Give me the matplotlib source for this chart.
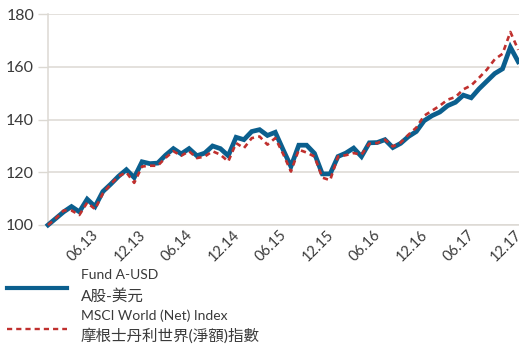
import matplotlib
matplotlib.use("Agg")
import matplotlib.pyplot as plt
from matplotlib.lines import Line2D
import matplotlib.transforms as mtransforms

# Monthly index values, Dec 2012 = 100 (61 month-ends, 12.12 .. 12.17)
fund_a_usd = [
    100.0, 102.5, 105.0, 107.0, 105.0, 109.8, 107.0, 112.7, 115.5, 118.5,
    121.0, 118.0, 124.0, 123.3, 123.5, 126.5, 129.0, 127.0, 129.0, 126.3,
    127.3, 130.0, 129.0, 126.3, 133.3, 132.4, 135.5, 136.2, 134.0, 135.2,
    128.6, 122.2, 130.3, 130.3, 127.2, 119.4, 119.4, 126.0, 127.3, 129.2,
    126.0, 131.2, 131.3, 132.4, 129.4, 131.0, 133.6, 135.5, 139.6, 141.5,
    142.9, 145.3, 146.6, 149.3, 148.3, 151.7, 154.6, 157.5, 159.3, 167.5,
    162.0,
]
msci_world = [
    100.0, 102.5, 105.5, 105.5, 103.8, 108.5, 106.0, 112.0, 115.5, 118.5,
    120.0, 116.0, 122.2, 122.5, 122.5, 125.5, 128.0, 126.3, 128.0, 125.4,
    126.0, 128.0, 126.7, 124.1, 131.1, 129.2, 133.0, 133.6, 130.5, 133.0,
    127.0, 120.3, 128.6, 127.5, 126.0, 118.0, 117.0, 126.0, 126.5, 127.3,
    126.7, 130.9, 131.1, 132.4, 129.8, 131.3, 134.3, 137.0, 141.5, 143.4,
    145.3, 147.6, 148.6, 151.5, 153.0, 155.9, 159.0, 162.9, 165.0, 173.3,
    166.5,
]
tick_months = [6, 12, 18, 24, 30, 36, 42, 48, 54, 60]
tick_labels = ["06.13", "12.13", "06.14", "12.14", "06.15",
               "12.15", "06.16", "12.16", "06.17", "12.17"]
y_ticks = [100, 120, 140, 160, 180]

legend_labels = [
    ("Fund A-USD", "A股-美元"),
    ("MSCI World (Net) Index", "摩根士丹利世界(淨額)指數"),
]

FUND_COLOR = "#0b5f8e"
INDEX_COLOR = "#c0302e"
TEXT_COLOR = "#3a3a3a"
GRID_COLOR = "#dcd9d3"
FONT = ["Lato", "Noto Sans CJK TC", "DejaVu Sans"]

plt.rcParams["font.family"] = FONT

W, H = 519, 345
fig = plt.figure(figsize=(W / 100, H / 100), dpi=100)
ax = fig.add_axes([48 / W, (H - 225) / H, (W - 48) / W, (225 - 14.3) / H])

months = list(range(len(fund_a_usd)))
ax.plot(months, fund_a_usd, color=FUND_COLOR, lw=3.4, zorder=3,
        solid_joinstyle="miter", clip_on=False)
ax.plot(months, msci_world, color=INDEX_COLOR, lw=1.9, zorder=4,
        dashes=(2.0, 1.6), clip_on=False)

ax.set_xlim(0, 60.1)
ax.set_ylim(100, 180)
ax.set_yticks(y_ticks)
ax.set_yticklabels([str(v) for v in y_ticks], fontsize=11.5, color=TEXT_COLOR)
ax.tick_params(axis="y", length=7, width=1, color=GRID_COLOR, pad=3)
ax.grid(axis="y", color=GRID_COLOR, lw=1.1, zorder=0)

ax.set_xticks(tick_months)
ax.set_xticklabels(tick_labels, rotation=45, ha="right", va="top",
                   fontsize=10.5, color=TEXT_COLOR)
ax.tick_params(axis="x", length=0, pad=2)
shift = mtransforms.ScaledTranslation(6 / 100, 0, fig.dpi_scale_trans)
for lbl in ax.get_xticklabels():
    lbl.set_transform(lbl.get_transform() + shift)

for side in ("top", "right"):
    ax.spines[side].set_visible(False)
for side in ("left", "bottom"):
    ax.spines[side].set_color(GRID_COLOR)
    ax.spines[side].set_linewidth(1.1)

# Legend drawn in figure pixel coordinates below the axes
def fx(px):
    return px / W

def fy(py):
    return 1 - py / H

fig.add_artist(Line2D([fx(7), fx(67)], [fy(288), fy(288)],
                      color=FUND_COLOR, lw=3.0))
fig.add_artist(Line2D([fx(7), fx(67)], [fy(328.5), fy(328.5)],
                      color=INDEX_COLOR, lw=1.7, dashes=(2.2, 1.7)))
rows = [(275, legend_labels[0][0], 10),
        (296.5, legend_labels[0][1], 11.2),
        (315.5, legend_labels[1][0], 10),
        (335.5, legend_labels[1][1], 11.2)]
for row, txt, size in rows:
    fig.text(fx(81), fy(row), txt, fontsize=size, color=TEXT_COLOR,
             ha="left", va="center", family=FONT)

fig.savefig("out.png", dpi=100)
